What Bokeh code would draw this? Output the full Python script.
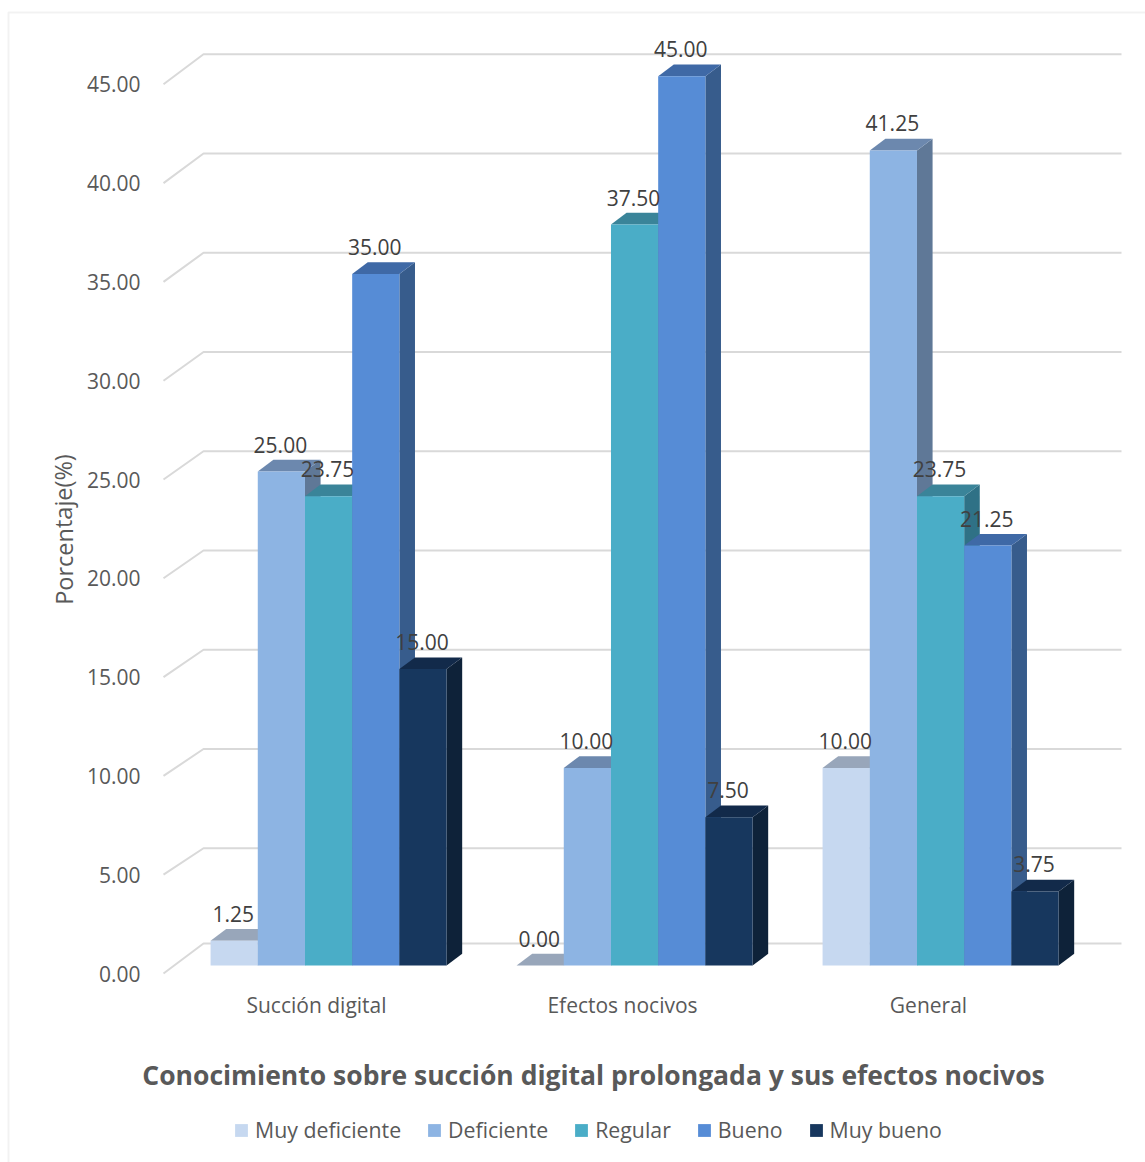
from bokeh.embed import file_html
from bokeh.resources import INLINE
from bokeh.plotting import figure
from bokeh.models import (BoxAnnotation, ColumnDataSource, FixedTicker, Label, Legend, LegendItem,
                          NumeralTickFormatter, Range1d)
from bokeh.core.properties import value

# Chart content
categories = ["Succión digital", "Efectos nocivos", "General"]
series_names = ["Muy deficiente", "Deficiente", "Regular", "Bueno", "Muy bueno"]
muy_deficiente = [1.25, 0.00, 10.00]
deficiente = [25.00, 10.00, 41.25]
regular = [23.75, 37.50, 23.75]
bueno = [35.00, 45.00, 21.25]
muy_bueno = [15.00, 7.50, 3.75]
series_values = [muy_deficiente, deficiente, regular, bueno, muy_bueno]
y_ticks = [0, 5, 10, 15, 20, 25, 30, 35, 40, 45]

# Face colours per series
front_colors = ["#C6D8F0", "#8DB4E3", "#4AADC7", "#568CD6", "#17375E"]
top_colors = ["#98A6BA", "#6C88AE", "#3A8499", "#3F69A6", "#122A4A"]
side_colors = ["#7F90A8", "#5F7897", "#2F7186", "#375C8C", "#0E2239"]

# Page and projection geometry
WIDTH, HEIGHT = 1145, 1162
PLOT_LEFT, PLOT_BOTTOM = 163, 973
PX_PER_CAT = 306.0
PX_PER_UNIT = 19.76
WALL_DX, WALL_DY = 40 / PX_PER_CAT, 30 / PX_PER_UNIT   # oblique shift of the back wall
BAR_Z0, BAR_Z1 = 8 / 30, 8 / 30 + 0.39                  # bar front and back depth
BAR_START = 0.119
BAR_W = 47.2 / PX_PER_CAT


def project(u, v, z):
    """Oblique projection of (category position, value, depth) to data coordinates."""
    return u + WALL_DX * z, v + WALL_DY * z


def wall_level(t):
    """Height of a gridline on the back wall; the wall is slightly stretched above the floor."""
    return WALL_DY if t == 0 else t * 1.0045 + 26 / PX_PER_UNIT


# The plotting frame fills the page, so titles and legend can sit anywhere on it
p = figure(
    width=WIDTH, height=HEIGHT, output_backend="svg", toolbar_location=None,
    x_range=Range1d(-PLOT_LEFT / PX_PER_CAT, (WIDTH - PLOT_LEFT) / PX_PER_CAT),
    y_range=Range1d((PLOT_BOTTOM - HEIGHT) / PX_PER_UNIT, PLOT_BOTTOM / PX_PER_UNIT),
    min_border_left=0, min_border_right=0, min_border_top=0, min_border_bottom=0,
    outline_line_color=None, background_fill_color="white", border_fill_color="white",
)
p.grid.visible = False

# Outer chart frame
p.add_layout(BoxAnnotation(left=8, right=1400, top=12, bottom=1400,
                           left_units="canvas", right_units="canvas",
                           top_units="canvas", bottom_units="canvas",
                           fill_alpha=0, line_color="#D4D4D4", line_width=2, level="underlay"))

# Gridlines: floor-to-wall diagonal, then along the back wall
grid_xs, grid_ys = [], []
for t in y_ticks:
    back = wall_level(t)
    grid_xs.append([0, WALL_DX, 3 + WALL_DX])
    grid_ys.append([t, back, back])
p.multi_line(grid_xs, grid_ys, line_color="#D9D9D9", line_width=2)

# Bars, painted left to right so later fronts hide earlier side faces
legend_renderers = [None] * len(series_names)
for g in range(len(categories)):
    for s in range(len(series_names)):
        v = series_values[s][g]
        x0 = g + BAR_START + s * BAR_W
        x1 = x0 + BAR_W
        corners_side = [project(x1, 0, BAR_Z0), project(x1, v, BAR_Z0), project(x1, v, BAR_Z1), project(x1, 0, BAR_Z1)]
        corners_top = [project(x0, v, BAR_Z0), project(x1, v, BAR_Z0), project(x1, v, BAR_Z1), project(x0, v, BAR_Z1)]
        p.patch([c[0] for c in corners_side], [c[1] for c in corners_side], fill_color=side_colors[s], line_color=None)
        p.patch([c[0] for c in corners_top], [c[1] for c in corners_top], fill_color=top_colors[s], line_color=None)
        fl, fb = project(x0, 0, BAR_Z0)
        fr, ft = project(x1, v, BAR_Z0)
        r = p.quad(left=[fl], right=[fr], bottom=[fb], top=[ft], fill_color=front_colors[s], line_color=None)
        if g == 0:
            legend_renderers[s] = r

# Value labels above each bar's front face
lab_x, lab_y, lab_t = [], [], []
for g in range(len(categories)):
    for s in range(len(series_names)):
        v = series_values[s][g]
        x, y = project(g + BAR_START + (s + 0.5) * BAR_W, v, BAR_Z0)
        lab_x.append(x)
        lab_y.append(y)
        lab_t.append(f"{v:.2f}")
p.text(x="x", y="y", text="t", source=ColumnDataSource(dict(x=lab_x, y=lab_y, t=lab_t)),
       text_font=value("Open Sans"), text_font_size="21px", text_color="#404040",
       text_align="center", text_baseline="middle", x_offset=-1, y_offset=-27)

# Axes sit inside the frame at the front floor corner
yax = p.yaxis[0]
yax.fixed_location = 0
yax.ticker = FixedTicker(ticks=y_ticks)
yax.formatter = NumeralTickFormatter(format="0.00")
yax.axis_line_color = None
yax.major_tick_line_color = None
yax.minor_tick_line_color = None
yax.major_tick_out = 0
yax.major_tick_in = 0
yax.major_label_text_font = "Open Sans"
yax.major_label_text_font_size = "21px"
yax.major_label_text_color = "#595959"
yax.major_label_standoff = 23

xax = p.xaxis[0]
xax.fixed_location = 0
xax.ticker = FixedTicker(ticks=[0.5, 1.5, 2.5])
xax.major_label_overrides = {i + 0.5: c for i, c in enumerate(categories)}
xax.axis_line_color = None
xax.major_tick_line_color = None
xax.minor_tick_line_color = None
xax.major_tick_out = 0
xax.major_tick_in = 0
xax.major_label_text_font = "Open Sans"
xax.major_label_text_font_size = "21px"
xax.major_label_text_color = "#595959"
xax.major_label_standoff = 17

# Axis title and chart title
p.add_layout(Label(x=63, y=529, x_units="canvas", y_units="canvas", text="Porcentaje(%)",
                   angle=1.5708, text_align="center", text_baseline="middle",
                   text_font="Open Sans", text_font_size="23.5px", text_color="#595959"))
p.add_layout(Label(x=593, y=1074, x_units="canvas", y_units="canvas",
                   text="Conocimiento sobre succión digital prolongada y sus efectos nocivos",
                   text_align="center", text_baseline="middle", text_font="Open Sans",
                   text_font_style="bold", text_font_size="26.5px", text_color="#595959"))

# Legend beneath the title
legend = Legend(
    items=[LegendItem(label=n, renderers=[r]) for n, r in zip(series_names, legend_renderers)],
    orientation="horizontal", location=(233, 18), margin=0, padding=0, spacing=25,
    glyph_width=16, glyph_height=16, label_standoff=6,
    label_text_font="Open Sans", label_text_font_size="21.3px", label_text_color="#595959",
    border_line_color=None, background_fill_alpha=0,
)
p.add_layout(legend, "center")

open("out.html", "w").write(file_html(p, INLINE))
